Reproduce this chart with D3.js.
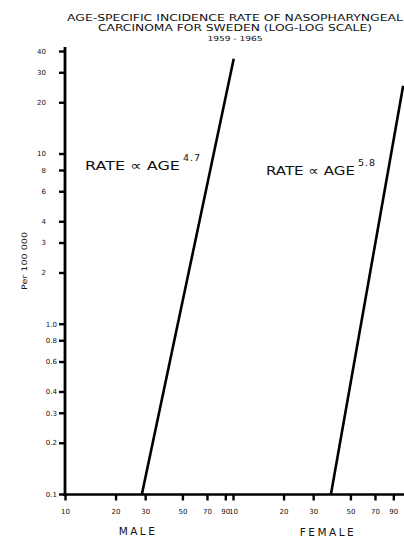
<!DOCTYPE html>
<html>
<head>
<meta charset="utf-8">
<script src="https://cdn.jsdelivr.net/npm/d3@7"></script>
<style>
  body { margin: 0; background: #fff; }
  #chart text { font-family: "DejaVu Sans", sans-serif; fill: #111; }
  .tick-lbl text { fill: #444; }
</style>
</head>
<body>
<div id="chart"></div>
<script>
// chart values
const titleLines = ['AGE-SPECIFIC INCIDENCE RATE OF NASOPHARYNGEAL',
    'CARCINOMA FOR SWEDEN (LOG-LOG SCALE)',
    '1959 - 1965'];
const yTicks = [0.1, 0.2, 0.3, 0.4, 0.6, 0.8, 1, 2, 3, 4, 6, 8, 10, 20, 30, 40];
const yTickLabels = ['0.1', '0.2', '0.3', '0.4', '0.6', '0.8', '1.0', '2', '3', '4', '6', '8', '10', '20', '30', '40'];
const xTicks = [10, 20, 30, 50, 70, 90];
const sexes = ['MALE', 'FEMALE'];
const maleAges = [28.7, 101];
const maleRates = [0.1, 36];
const femaleAges = [38.3, 103];
const femaleRates = [0.1, 25];
const exponents = ['4.7', '5.8'];
const yLabel = 'Per 100 000';

const width = 404,
    height = 539;

const svg = d3.select('#chart').append('svg')
    .attr('width', width)
    .attr('height', height);

svg.append('rect')
    .attr('width', '100%')
    .attr('height', '100%')
    .attr('fill', '#fff');

// y: log scale shared by both panels
const y = d3.scaleLog().domain([0.1, 40]).range([494, 51]);
// x: one log decade per sex, female panel starts where male ends
const xMale = d3.scaleLog().domain([10, 100]).range([65, 233]);
const xFemale = d3.scaleLog().domain([10, 100]).range([233, 401]);

// title
const titleY = [21, 31, 41],
    titleLen = [336, 274, 55],
    titleSize = [8.3, 8.3, 7];
svg.selectAll('.title')
    .data(titleLines)
    .enter()
    .append('text')
    .attr('class', 'title')
    .attr('x', 235)
    .attr('y', (d, i) => titleY[i])
    .attr('text-anchor', 'middle')
    .attr('font-size', (d, i) => titleSize[i])
    .attr('textLength', (d, i) => titleLen[i])
    .attr('lengthAdjust', 'spacingAndGlyphs')
    .text(d => d);

// y axis
const yAxis = svg.append('g')
    .attr('class', 'tick-lbl')
    .attr('transform', 'translate(65,0)')
    .call(d3.axisLeft(y)
        .tickValues(yTicks)
        .tickSize(6)
        .tickPadding(13)
        .tickFormat((d, i) => yTickLabels[i]));
yAxis.select('.domain').remove();
yAxis.selectAll('.tick line').attr('stroke', '#000').attr('stroke-width', 2.4);
yAxis.selectAll('.tick text')
    .attr('font-size', 7)
    .attr('x', d => d < 1.5 ? -8 : -19);

svg.append('line')
    .attr('x1', 65).attr('x2', 65)
    .attr('y1', 47).attr('y2', 496)
    .attr('stroke', '#000')
    .attr('stroke-width', 2.8);

// x axes, one per sex
[xMale, xFemale].forEach(function(x) {
    const g = svg.append('g')
        .attr('class', 'tick-lbl')
        .attr('transform', 'translate(0,494.5)')
        .call(d3.axisBottom(x)
            .tickValues(xTicks)
            .tickSize(6)
            .tickPadding(9)
            .tickFormat(d3.format('d')));
    g.select('.domain').remove();
    g.selectAll('.tick line').attr('stroke', '#000').attr('stroke-width', 2.4);
    g.selectAll('.tick text').attr('font-size', 7);
});

svg.append('line')
    .attr('x1', 63).attr('x2', 404)
    .attr('y1', 494.5).attr('y2', 494.5)
    .attr('stroke', '#000')
    .attr('stroke-width', 2.6);

// sex labels under each panel
const sexX = [138, 328],
    sexY = [535, 536];
svg.selectAll('.sex')
    .data(sexes)
    .enter()
    .append('text')
    .attr('class', 'sex')
    .attr('x', (d, i) => sexX[i])
    .attr('y', (d, i) => sexY[i])
    .attr('text-anchor', 'middle')
    .attr('font-size', 10.5)
    .attr('letter-spacing', 2.5)
    .text(d => d);

// y label
svg.append('text')
    .attr('transform', 'translate(27,261) rotate(-90)')
    .attr('text-anchor', 'middle')
    .attr('font-size', 7.5)
    .attr('textLength', 58)
    .attr('lengthAdjust', 'spacingAndGlyphs')
    .attr('fill', '#333')
    .text(yLabel);

// rate lines
const lines = [
    { x: xMale, ages: maleAges, rates: maleRates },
    { x: xFemale, ages: femaleAges, rates: femaleRates }
];
lines.forEach(function(l) {
    const pts = l.ages.map((a, i) => [a, l.rates[i]]);
    svg.append('path')
        .datum(pts)
        .attr('fill', 'none')
        .attr('stroke', '#000')
        .attr('stroke-width', 2.6)
        .attr('d', d3.line().x(d => l.x(d[0])).y(d => y(d[1])));
});

// RATE ∝ AGE^k annotations
const noteX = [85, 266],
    noteY = [170, 175],
    noteLen = [95, 89];
exponents.forEach(function(e, i) {
    svg.append('text')
        .attr('x', noteX[i])
        .attr('y', noteY[i])
        .attr('font-size', 13)
        .attr('textLength', noteLen[i])
        .attr('lengthAdjust', 'spacingAndGlyphs')
        .text('RATE \u221D AGE');
    svg.append('text')
        .attr('x', noteX[i] + noteLen[i] + 3)
        .attr('y', noteY[i] - 9)
        .attr('font-size', 9.5)
        .attr('letter-spacing', 1)
        .text(e);
});
</script>
</body>
</html>
